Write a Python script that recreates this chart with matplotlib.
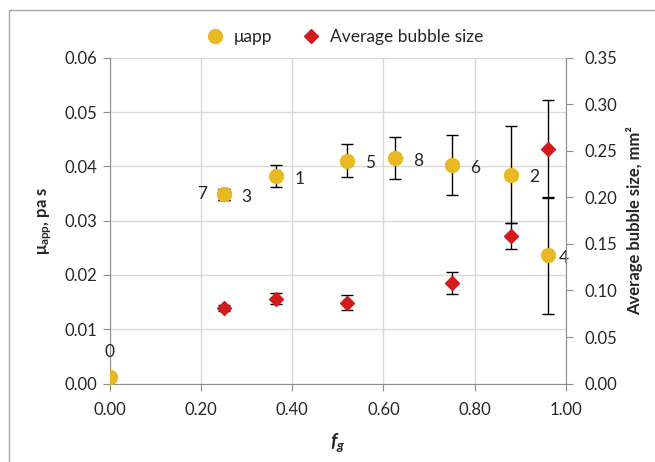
import matplotlib
matplotlib.use('Agg')
import matplotlib.pyplot as plt
from matplotlib.lines import Line2D
from matplotlib.patches import Rectangle
from matplotlib.ticker import FormatStrFormatter

plt.rcParams['font.family'] = ['Lato', 'DejaVu Sans']
plt.rcParams['mathtext.fontset'] = 'custom'
plt.rcParams['mathtext.rm'] = 'Lato'
plt.rcParams['mathtext.it'] = 'Lato:italic'
plt.rcParams['mathtext.bf'] = 'Lato:bold'
plt.rcParams['mathtext.bfit'] = 'Lato:bold:italic'

# ---- data ----
fg_mu = [0.0, 0.25, 0.25, 0.365, 0.52, 0.625, 0.75, 0.88, 0.96]
mu_app = [0.0012, 0.0349, 0.0349, 0.0382, 0.0411, 0.0416, 0.0403, 0.0385, 0.0236]
mu_err = [0.0, 0.001, 0.001, 0.002, 0.003, 0.0039, 0.0055, 0.009, 0.0107]
point_labels = ['0', '7', '3', '1', '5', '8', '6', '2', '4']

fg_bub = [0.25, 0.365, 0.52, 0.75, 0.88, 0.96]
bubble = [0.081, 0.091, 0.087, 0.108, 0.159, 0.252]
bubble_err = [0.003, 0.006, 0.008, 0.012, 0.014, 0.053]

x_ticks = [0.0, 0.2, 0.4, 0.6, 0.8, 1.0]
y_ticks = [0.0, 0.01, 0.02, 0.03, 0.04, 0.05, 0.06]
y2_ticks = [0.0, 0.05, 0.10, 0.15, 0.20, 0.25, 0.30, 0.35]

gold = '#E8B923'
red = '#D01C1C'
axis_grey = '#8C8C8C'
text_col = '#262626'

fig = plt.figure(figsize=(6.55, 4.62), dpi=100)
ax = fig.add_axes([0.1672, 0.1699, 0.6969, 0.7046])
ax2 = ax.twinx()

# yellow points with error bars
ax.errorbar(fg_mu, mu_app, yerr=mu_err, fmt='none', ecolor='black',
            elinewidth=1, capsize=4, capthick=1, zorder=3)
ax.plot(fg_mu, mu_app, 'o', color=gold, markersize=10, zorder=4)

# label offsets (points): label sits right of the marker except a few
for i, (x, y, lab) in enumerate(zip(fg_mu, mu_app, point_labels)):
    if lab == '0':
        off, ha, va = (0, 12), 'center', 'bottom'
    elif lab == '7':
        off, ha, va = (-12, 0), 'right', 'center'
    elif lab == '4':
        off, ha, va = (8, -2), 'left', 'center'
    else:
        off, ha, va = (13, -2), 'left', 'center'
    ax.annotate(lab, (x, y), xytext=off, textcoords='offset points',
                ha=ha, va=va, fontsize=12.5, color=text_col, zorder=5)

# red diamonds on secondary axis
ax2.errorbar(fg_bub, bubble, yerr=bubble_err, fmt='none', ecolor='black',
             elinewidth=1, capsize=4, capthick=1, zorder=3)
ax2.plot(fg_bub, bubble, 'D', color=red, markersize=7.5, zorder=4)

ax.set_xlim(0, 1)
ax.set_ylim(0, 0.06)
ax2.set_ylim(0, 0.35)
ax.set_xticks(x_ticks)
ax.set_yticks(y_ticks)
ax2.set_yticks(y2_ticks)
ax.xaxis.set_major_formatter(FormatStrFormatter('%.2f'))
ax.yaxis.set_major_formatter(FormatStrFormatter('%.2f'))
ax2.yaxis.set_major_formatter(FormatStrFormatter('%.2f'))

ax.grid(True, color='#D9D9D9', linewidth=1)
ax.set_axisbelow(True)

for a in (ax, ax2):
    a.spines['top'].set_visible(False)
    for s in ('left', 'right', 'bottom'):
        a.spines[s].set_color(axis_grey)
ax2.spines['left'].set_visible(False)
ax2.spines['bottom'].set_visible(False)
ax.spines['right'].set_visible(False)

ax.tick_params(axis='both', labelsize=12, color=axis_grey, length=5,
               labelcolor=text_col)
ax.tick_params(axis='x', pad=8)
ax2.tick_params(axis='y', labelsize=12, color=axis_grey, length=5,
                labelcolor=text_col, pad=8)

ax.set_ylabel(r'$\mathbf{μ_{app}}$, pa s', fontsize=12, fontweight='bold',
              color=text_col, va='center')
ax.yaxis.set_label_coords(-0.141, 0.5)
ax2.set_ylabel('Average bubble size, mm²', fontsize=12, fontweight='bold',
               color=text_col, va='center')
ax2.yaxis.set_label_coords(1.151, 0.5)
ax.set_xlabel(r'$\mathbfit{f_g}$', fontsize=14, color=text_col, va='center')
ax.xaxis.set_label_coords(0.5, -0.18)

handles = [Line2D([], [], marker='o', color=gold, linestyle='none', markersize=10),
           Line2D([], [], marker='D', color=red, linestyle='none', markersize=7.5)]
fig.legend(handles, ['μapp', 'Average bubble size'], loc='center',
           bbox_to_anchor=(0.52, 0.92), ncol=2, frameon=False, fontsize=12.5,
           handletextpad=0.1, columnspacing=1.2, labelcolor=text_col)

fig.patches.append(Rectangle((9 / 655, -0.05), 1.0, (462 - 10) / 462 + 0.05,
                             transform=fig.transFigure, fill=False,
                             edgecolor='#A6A6A6', linewidth=1))

fig.savefig('out.png', dpi=100)
